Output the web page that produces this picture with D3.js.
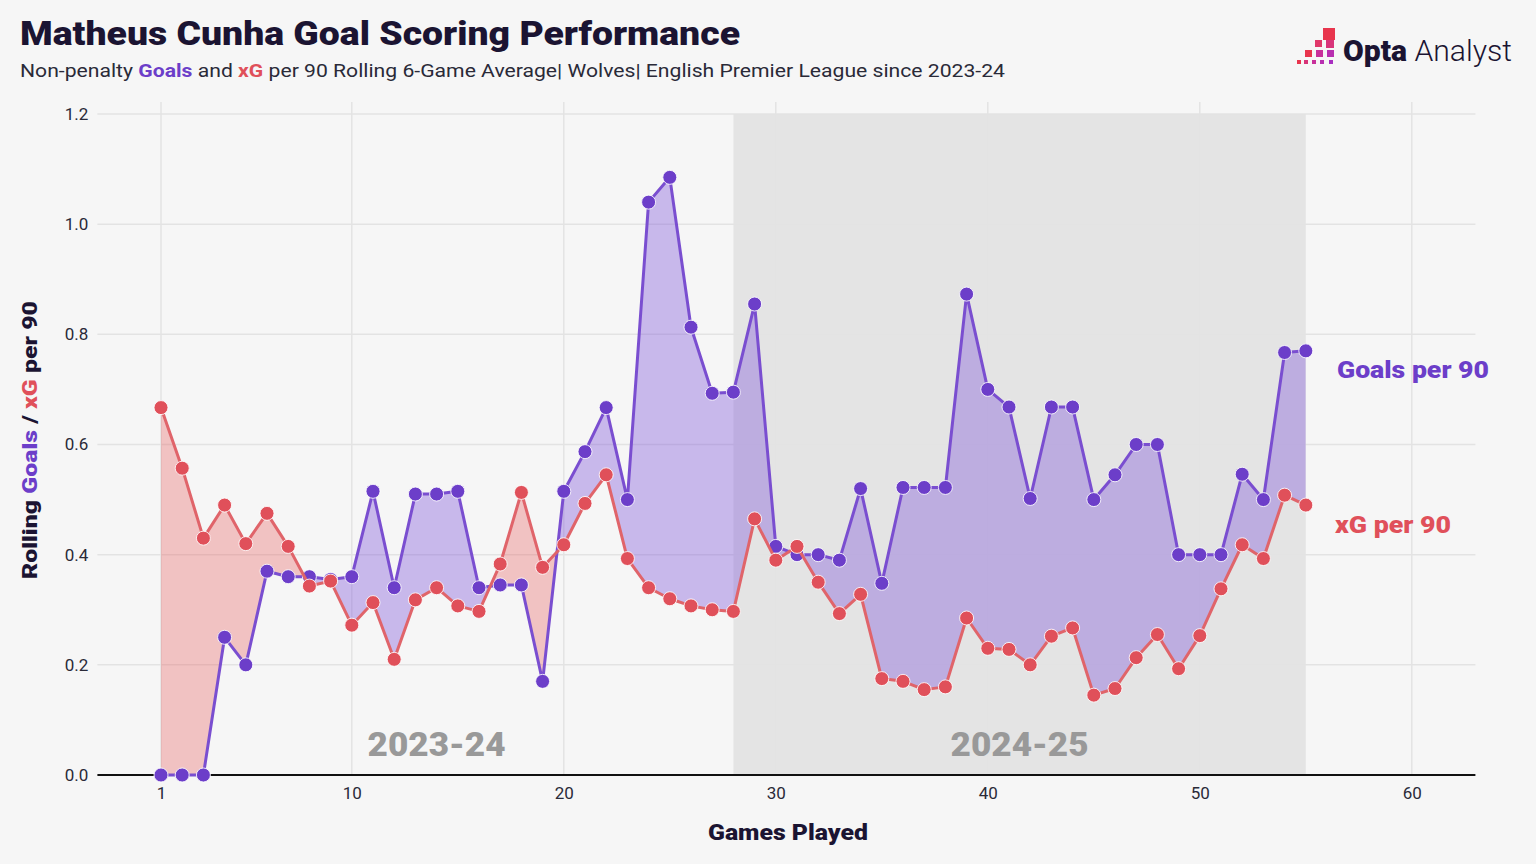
<!DOCTYPE html>
<meta charset="utf-8" />
<script src="https://d3js.org/d3.v7.min.js"></script>
<body style="margin:0;background:#f6f6f6">
<svg id="chart" width="1536" height="864" style="display:block"></svg>
<script>
/* data ------------------------------------------------------------------ */
const games=[1,2,3,4,5,6,7,8,9,10,11,12,13,14,15,16,17,18,19,20,21,22,23,24,25,26,27,28,29,30,
  31,32,33,34,35,36,37,38,39,40,41,42,43,44,45,46,47,48,49,50,51,52,53,54,55];
const goals=[0,0,0,0.25,0.2,0.37,0.36,0.36,0.355,0.36,0.515,0.34,0.51,0.51,0.515,0.34,0.345,0.345,0.17,0.515,
  0.587,0.667,0.5,1.04,1.085,0.813,0.693,0.695,0.855,0.415,0.4,0.4,0.39,0.52,0.348,0.522,0.522,0.522,0.873,0.7,
  0.668,0.502,0.668,0.668,0.5,0.545,0.6,0.6,0.4,0.4,0.4,0.546,0.5,0.767,0.77];
const xg=[0.667,0.557,0.43,0.49,0.42,0.475,0.415,0.343,0.352,0.272,0.313,0.21,0.318,0.34,0.307,0.297,0.383,0.513,0.377,0.418,
  0.493,0.545,0.393,0.34,0.32,0.307,0.3,0.297,0.465,0.39,0.415,0.35,0.293,0.328,0.175,0.17,0.155,0.16,0.285,0.23,
  0.228,0.2,0.252,0.267,0.145,0.157,0.213,0.255,0.193,0.253,0.338,0.418,0.393,0.508,0.49];
const xTicks=[1,10,20,30,40,50,60];
const yTicks=[0,0.2,0.4,0.6,0.8,1.0,1.2];
const seasons=[{label:"2023-24",mid:14},{label:"2024-25",mid:41.5}];
const season2=[28,55];

/* style ------------------------------------------------------------------ */
const PURPLE="#6c3ec9",PURPLE_LINE="#7a4ed0",RED="#e0505a",RED_LINE="#e0646a",INK="#1b1432";
const FONT="Roboto, 'DejaVu Sans', sans-serif";

const svg=d3.select("#chart").style("font-family",FONT);
const x=d3.scaleLinear().domain([-2,63]).range([97.4,1475.4]);
const y=d3.scaleLinear().domain([0,1.2]).range([775,114]);
const rows=games.map((g,i)=>({g,goals:goals[i],xg:xg[i]}));

/* grey season band */
svg.append("rect").attr("x",x(season2[0])).attr("width",x(season2[1])-x(season2[0]))
  .attr("y",y(1.2)).attr("height",y(0)-y(1.2)).attr("fill","#e4e4e4");

/* grid */
svg.append("g").selectAll("line").data(yTicks.filter(d=>d>0)).join("line")
  .attr("x1",x.range()[0]).attr("x2",x.range()[1]).attr("y1",y).attr("y2",y)
  .attr("stroke","#e3e3e3").attr("stroke-width",1.5);
svg.append("g").selectAll("line").data(xTicks).join("line")
  .attr("x1",x).attr("x2",x).attr("y1",y(1.222)).attr("y2",y(0))
  .attr("stroke","#e3e3e3").attr("stroke-width",1.5);

/* season labels */
svg.append("g").selectAll("text").data(seasons).join("text")
  .attr("x",d=>x(d.mid)).attr("y",756).attr("text-anchor","middle")
  .attr("font-size",34).attr("font-weight",900).attr("fill","#999")
  .attr("textLength",138).attr("lengthAdjust","spacingAndGlyphs")
  .text(d=>d.label);

/* difference fills */
const defs=svg.append("defs");
const yTop=y(1.3),yBot=y(-0.1);
defs.append("clipPath").attr("id","aboveXg").append("path")
  .attr("d",d3.area().x(d=>x(d.g)).y0(yTop).y1(d=>y(d.xg))(rows));
defs.append("clipPath").attr("id","belowXg").append("path")
  .attr("d",d3.area().x(d=>x(d.g)).y0(yBot).y1(d=>y(d.xg))(rows));
const between=d3.area().x(d=>x(d.g)).y0(d=>y(d.xg)).y1(d=>y(d.goals));
svg.append("path").attr("d",between(rows)).attr("clip-path","url(#aboveXg)")
  .attr("fill","rgba(120,75,215,0.36)");
svg.append("path").attr("d",between(rows)).attr("clip-path","url(#belowXg)")
  .attr("fill","rgba(230,85,85,0.32)");

/* axis line */
svg.append("line").attr("x1",x.range()[0]).attr("x2",x.range()[1])
  .attr("y1",y(0)).attr("y2",y(0)).attr("stroke","#111").attr("stroke-width",2);

/* lines + points */
function series(key,lineC,ptC){
  svg.append("path").datum(rows).attr("fill","none").attr("stroke",lineC).attr("stroke-width",3)
    .attr("stroke-linejoin","round")
    .attr("d",d3.line().x(d=>x(d.g)).y(d=>y(d[key])));
  svg.append("g").selectAll("circle").data(rows).join("circle")
    .attr("cx",d=>x(d.g)).attr("cy",d=>y(d[key])).attr("r",7)
    .attr("fill",ptC).attr("stroke","#fff").attr("stroke-opacity",0.85).attr("stroke-width",1);
}
series("goals",PURPLE_LINE,PURPLE);
series("xg",RED_LINE,RED);

/* axes */
const xa=svg.append("g").attr("transform",`translate(0,${y(0)})`)
  .call(d3.axisBottom(x).tickValues(xTicks).tickSize(0).tickPadding(12));
const ya=svg.append("g").attr("transform",`translate(${x.range()[0]},0)`)
  .call(d3.axisLeft(y).tickValues(yTicks).tickFormat(d3.format(".1f")).tickSize(0).tickPadding(9));
[xa,ya].forEach(a=>{
  a.select(".domain").remove();
  a.selectAll("text").attr("font-family",FONT).attr("font-size",17).attr("fill","#2a2a38");
});

/* axis titles */
svg.append("text").attr("x",788).attr("y",840).attr("text-anchor","middle")
  .attr("font-size",22).attr("font-weight",900).attr("fill",INK)
  .attr("textLength",160).attr("lengthAdjust","spacingAndGlyphs").text("Games Played");
const yt=svg.append("text").attr("transform","translate(37,440) rotate(-90)")
  .attr("text-anchor","middle").attr("font-size",21).attr("font-weight",900).attr("fill",INK)
  .attr("textLength",278).attr("lengthAdjust","spacingAndGlyphs");
yt.append("tspan").text("Rolling ");
yt.append("tspan").attr("fill",PURPLE).text("Goals");
yt.append("tspan").text(" / ");
yt.append("tspan").attr("fill",RED).text("xG");
yt.append("tspan").text(" per 90");

/* series labels */
svg.append("text").attr("x",1337).attr("y",378).attr("font-size",23).attr("font-weight",900)
  .attr("fill",PURPLE).attr("textLength",152).attr("lengthAdjust","spacingAndGlyphs").text("Goals per 90");
svg.append("text").attr("x",1335).attr("y",533).attr("font-size",23).attr("font-weight",900)
  .attr("fill",RED).attr("textLength",116).attr("lengthAdjust","spacingAndGlyphs").text("xG per 90");

/* title + subtitle */
svg.append("text").attr("x",20).attr("y",45).attr("font-size",34).attr("font-weight",900)
  .attr("fill",INK).attr("textLength",720).attr("lengthAdjust","spacingAndGlyphs")
  .text("Matheus Cunha Goal Scoring Performance");
const st=svg.append("text").attr("x",20).attr("y",77).attr("font-size",19).attr("fill","#2a2a38")
  .attr("textLength",985).attr("lengthAdjust","spacingAndGlyphs");
st.append("tspan").text("Non-penalty ");
st.append("tspan").attr("fill",PURPLE).attr("font-weight",700).text("Goals");
st.append("tspan").text(" and ");
st.append("tspan").attr("fill",RED).attr("font-weight",700).text("xG");
st.append("tspan").text(" per 90 Rolling 6-Game Average| Wolves| English Premier League since 2023-24");

/* logo: staircase of squares */
const logo=svg.append("g").attr("transform","translate(1296,28)");
const cells=[
  {x:27,y:0,s:12,c:"#e8354d"},
  {x:19,y:12,s:7,c:"#e0386a"},{x:30,y:12,s:8,c:"#d8347a"},
  {x:9,y:22,s:7,c:"#e8354d"},{x:20,y:22,s:7,c:"#c8309a"},{x:31,y:22,s:7,c:"#b82fb0"},
  {x:1,y:32,s:4,c:"#e8354d"},{x:8,y:32,s:4,c:"#d83478"},{x:16,y:32,s:4,c:"#c8309a"},
  {x:24,y:32,s:4,c:"#b82fb0"},{x:33,y:32,s:4,c:"#a82ec0"}
];
logo.selectAll("rect").data(cells).join("rect")
  .attr("x",d=>d.x).attr("y",d=>d.y).attr("width",d=>d.s).attr("height",d=>d.s).attr("fill",d=>d.c);
const lt=svg.append("text").attr("x",1343).attr("y",61).attr("font-size",30).attr("fill",INK)
  .attr("textLength",169).attr("lengthAdjust","spacingAndGlyphs");
lt.append("tspan").attr("font-weight",900).text("Opta");
lt.append("tspan").attr("font-weight",300).text(" Analyst");
</script>
</body>
